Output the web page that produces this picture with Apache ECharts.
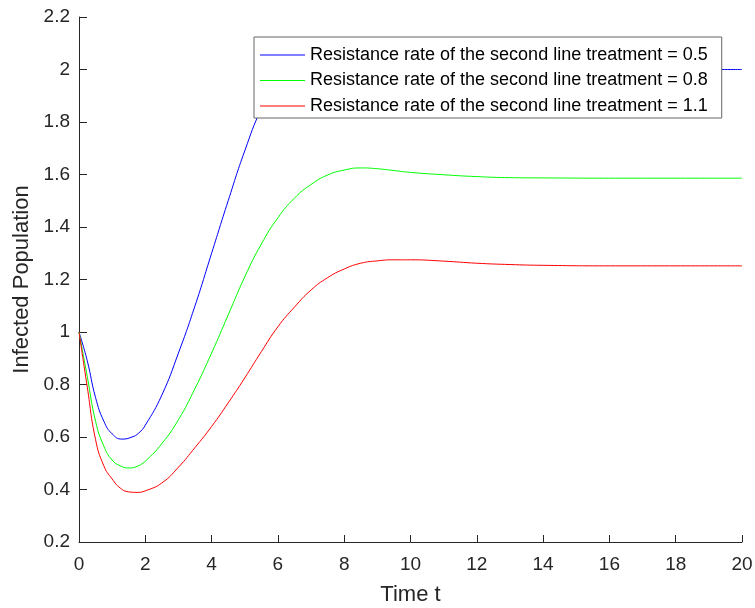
<!DOCTYPE html>
<html>
<head>
<meta charset="utf-8">
<script src="https://cdn.jsdelivr.net/npm/echarts@6/dist/echarts.min.js"></script>
<style>
  html, body { margin: 0; padding: 0; background: #fff; }
  #chart { width: 755px; height: 608px; }
</style>
</head>
<body>
<div id="chart"></div>
<script>
// time points and population per resistance rate
var tBlue = [0, 0.25, 0.5, 0.75, 1, 1.3, 1.6, 1.8, 2, 2.5, 3, 3.5, 4, 4.5, 5, 5.5, 6, 6.5, 7, 8, 9, 10, 12, 14, 16, 20];
var blueVals = [1.0, 0.89, 0.75, 0.66, 0.612, 0.592, 0.60, 0.615, 0.645, 0.76, 0.92, 1.10, 1.30, 1.50, 1.69, 1.85, 1.96, 2.03, 2.06, 2.07, 2.05, 2.03, 2.005, 2.0, 2.0, 2.0];

var tGreen = [0, 0.25, 0.5, 0.75, 1, 1.25, 1.5, 1.75, 2, 2.5, 3, 3.5, 4, 4.5, 5, 5.5, 6, 6.5, 7, 7.5, 8, 8.5, 9, 9.5, 10, 11, 12, 13, 14, 16, 20];
var greenVals = [1.0, 0.83, 0.66, 0.565, 0.512, 0.49, 0.482, 0.488, 0.508, 0.575, 0.666, 0.785, 0.92, 1.065, 1.21, 1.335, 1.435, 1.51, 1.562, 1.598, 1.617, 1.625, 1.622, 1.615, 1.608, 1.599, 1.592, 1.588, 1.587, 1.586, 1.586];

var tRed = [0, 0.25, 0.5, 0.75, 1, 1.25, 1.5, 1.75, 2, 2.5, 3, 3.5, 4, 4.5, 5, 5.5, 6, 6.5, 7, 7.5, 8, 8.5, 9, 9.5, 10, 11, 12, 13, 14, 16, 20];
var redVals = [1.0, 0.79, 0.59, 0.49, 0.44, 0.405, 0.391, 0.389, 0.395, 0.425, 0.485, 0.56, 0.64, 0.73, 0.825, 0.925, 1.02, 1.095, 1.16, 1.207, 1.24, 1.262, 1.271, 1.275, 1.275, 1.27, 1.262, 1.257, 1.254, 1.252, 1.252];

var seriesNames = [
  "Resistance rate of the second line treatment = 0.5",
  "Resistance rate of the second line treatment = 0.8",
  "Resistance rate of the second line treatment = 1.1"
];
var seriesColors = ["#0000ff", "#00ff00", "#ff0000"];

function pairs(ts, vs) {
  return ts.map(function (t, i) { return [t, vs[i]]; });
}

var axisColor = "#262626";
var font = "Liberation Sans, Arial, sans-serif";

var myChart = echarts.init(document.getElementById("chart"));
var option = {
  backgroundColor: "#fff",
  animation: false,
  grid: {
    left: 79,
    top: 17,
    right: 13,
    bottom: 66,
    containLabel: false,
    outerBoundsMode: "none"
  },
  legend: {
    orient: "vertical",
    left: 254,
    top: 37,
    padding: [9, 14, 3, 6],
    icon: "rect",
    itemWidth: 45,
    itemHeight: 1,
    itemGap: 7.5,
    backgroundColor: "#fff",
    borderColor: "#666",
    borderWidth: 1,
    textStyle: {
      color: "#000",
      fontSize: 18,
      fontFamily: font
    },
    data: seriesNames
  },
  xAxis: {
    type: "value",
    min: 0,
    max: 20,
    interval: 2,
    name: "Time t",
    nameLocation: "middle",
    nameGap: 42,
    nameTextStyle: { color: axisColor, fontSize: 22, fontFamily: font },
    axisLine: { show: true, lineStyle: { color: axisColor, width: 1 } },
    axisTick: { show: true, inside: true, length: 7, lineStyle: { color: axisColor } },
    axisLabel: { color: axisColor, fontSize: 19, fontFamily: font, margin: 13 },
    splitLine: { show: false }
  },
  yAxis: {
    type: "value",
    min: 0.2,
    max: 2.2,
    interval: 0.2,
    name: "Infected Population",
    nameLocation: "middle",
    nameGap: 46,
    nameTextStyle: { color: axisColor, fontSize: 22, fontFamily: font },
    axisLine: { show: true, lineStyle: { color: axisColor, width: 1 } },
    axisTick: { show: true, inside: true, length: 8, lineStyle: { color: axisColor } },
    axisLabel: {
      color: axisColor,
      fontSize: 19,
      fontFamily: font,
      margin: 9,
      formatter: function (v) { return String(Math.round(v * 10) / 10); }
    },
    splitLine: { show: false }
  },
  series: [
    { data: pairs(tBlue, blueVals) },
    { data: pairs(tGreen, greenVals) },
    { data: pairs(tRed, redVals) }
  ].map(function (s, i) {
    return {
      name: seriesNames[i],
      type: "line",
      smooth: 0.5,
      symbol: "none",
      lineStyle: { color: seriesColors[i], width: 1 },
      itemStyle: { color: seriesColors[i] },
      data: s.data
    };
  })
};
myChart.setOption(option);
window.addEventListener("resize", () => {
  myChart.resize();
});
</script>
</body>
</html>
